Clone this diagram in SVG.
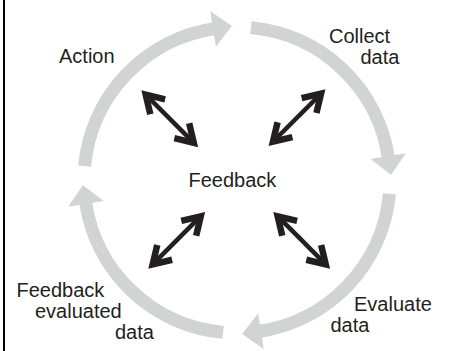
<svg xmlns="http://www.w3.org/2000/svg" xmlns:xlink="http://www.w3.org/1999/xlink" width="451" height="351" viewBox="0 0 451 351">
  <style>
    .ring { fill: none; stroke: #d1d3d4; stroke-width: 13; }
    .ringhead { fill: #d1d3d4; stroke: none; }
    .dbl line, .dbl polyline { fill: none; stroke: #231f20; stroke-linejoin: miter; }
    .lbl { font-family: "Liberation Sans", Arial, Helvetica, sans-serif; font-size: 20px; fill: #231f20; }
  </style>
  <defs>
    <!-- one quarter of the cycle: arc from the top round to the right, ending in a head -->
    <g id="quarter">
      <path class="ring" d="M 250.86 27.63 A 153 153 0 0 1 388.51 158.71"/>
      <polygon class="ringhead" points="370.34,158.88 405.89,153.25 391.09,174.84"/>
    </g>
    <!-- double-headed black arrow, centred on the origin, along x -->
    <g id="dbl" class="dbl">
      <line x1="-33" y1="0" x2="33" y2="0" stroke-width="4.5"/>
      <polyline points="-17,-10.5 -34,0 -17,10.5" stroke-width="6.5"/>
      <polyline points="17,-10.5 34,0 17,10.5" stroke-width="6.5"/>
    </g>
  </defs>

  <rect x="3" y="0" width="2" height="351" fill="#000"/>

  <g id="connectors">
    <g id="cycle">
      <use xlink:href="#quarter"/>
      <use xlink:href="#quarter" transform="rotate(90 237 180)"/>
      <use xlink:href="#quarter" transform="rotate(180 237 180)"/>
      <use xlink:href="#quarter" transform="rotate(270 237 180)"/>
    </g>
    <use xlink:href="#dbl" transform="translate(169.75 118.75) rotate(45)"/>
    <use xlink:href="#dbl" transform="translate(297 117.65) rotate(-45)"/>
    <use xlink:href="#dbl" transform="translate(176.7 240.3) rotate(-45)"/>
    <use xlink:href="#dbl" transform="translate(301.7 240.3) rotate(45)"/>
  </g>

  <g id="action"><text class="lbl" x="59" y="62.5">Action</text></g>
  <g id="collect-data">
    <text class="lbl" x="329" y="42.5">Collect</text>
    <text class="lbl" x="360.5" y="64">data</text>
  </g>
  <g id="feedback"><text class="lbl" x="188.5" y="187">Feedback</text></g>
  <g id="evaluate-data">
    <text class="lbl" x="354" y="310.5">Evaluate</text>
    <text class="lbl" x="330.5" y="331.5">data</text>
  </g>
  <g id="feedback-evaluated-data">
    <text class="lbl" x="16.5" y="296.5">Feedback</text>
    <text class="lbl" x="35" y="317.5">evaluated</text>
    <text class="lbl" x="115" y="338.5">data</text>
  </g>
</svg>
